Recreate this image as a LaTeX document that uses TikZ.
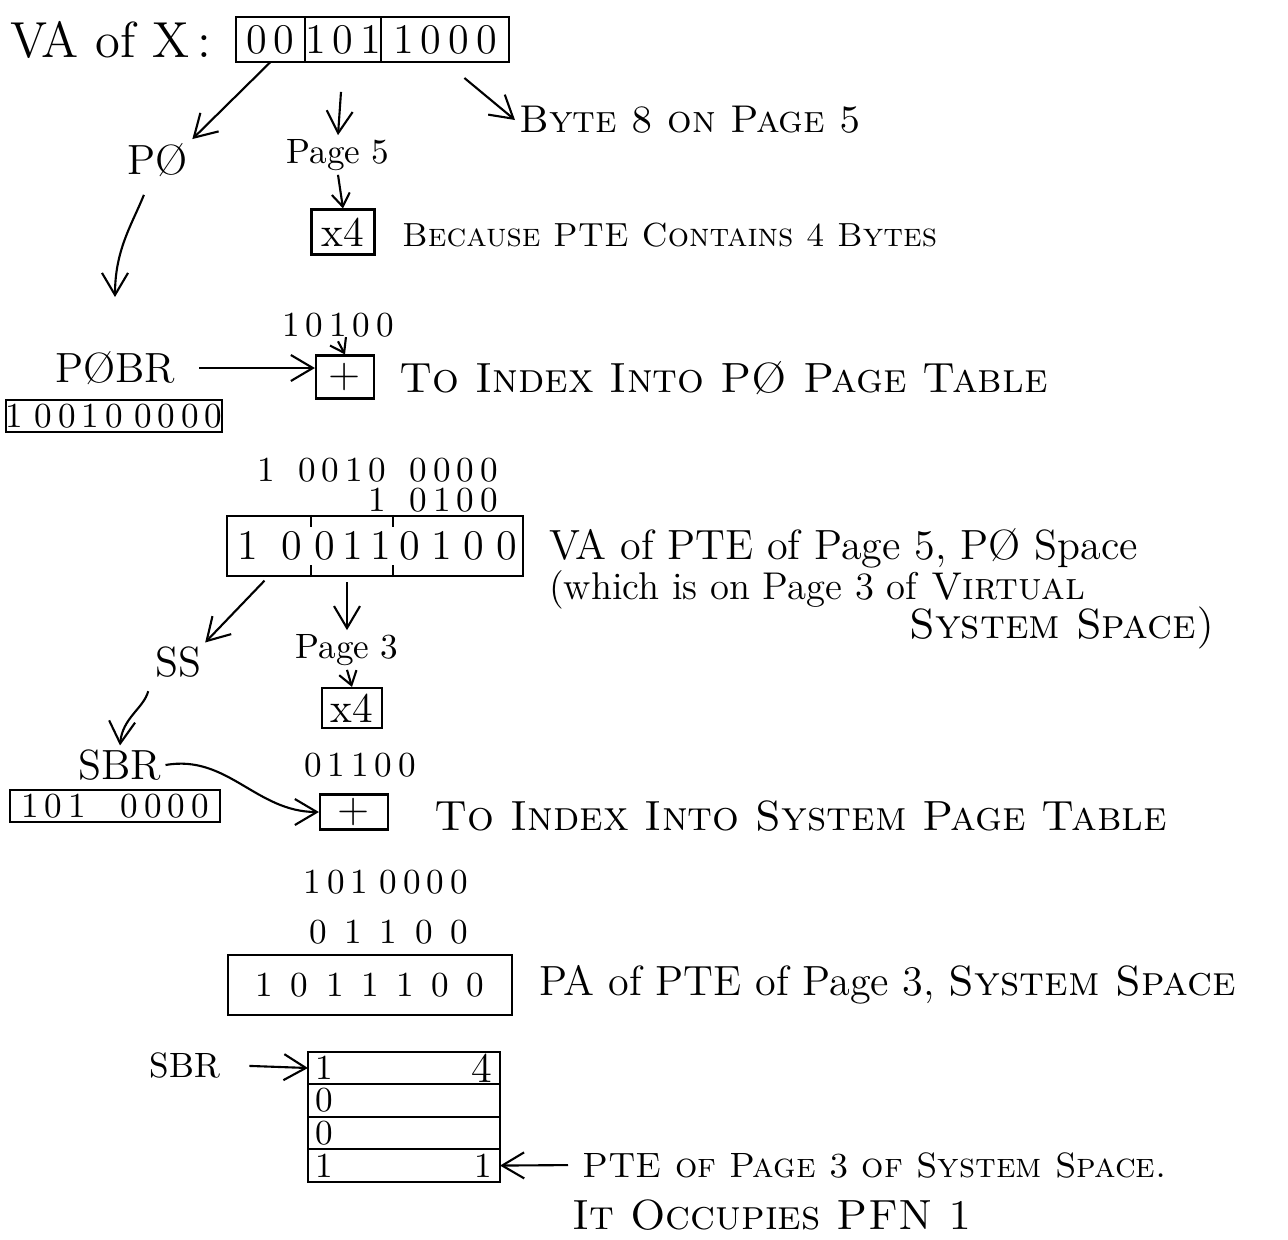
\documentclass[tikz,border=0pt]{standalone}
\usepackage{tikz}
\usetikzlibrary{arrows.meta,positioning,calc}
\tikzset{
  >={Straight Barb[length=2.2mm,width=2.6mm]},
  % boxes
  fld/.style={draw,line width=0.6pt,inner sep=0pt,outer sep=0pt,minimum height=4.5mm,font=\large},
  reg/.style={draw,line width=0.6pt,inner sep=0pt,minimum height=3.2mm,font=\normalsize},
  opbox/.style={draw,line width=0.6pt,inner sep=0pt,minimum width=5.8mm,minimum height=4.3mm,font=\large},
  wide/.style={draw,line width=0.6pt,inner sep=0pt,minimum width=29.5mm,minimum height=6mm},
  row/.style={draw,line width=0.6pt,inner sep=0pt,outer sep=0pt,minimum width=19.2mm,minimum height=3.25mm},
  % texts
  note/.style={anchor=west,inner sep=1pt,font=\large},
  lbl/.style={inner sep=1pt,font=\large},
  num/.style={inner sep=1pt,font=\normalsize},
  link/.style={->,line width=0.6pt},
  hop/.style={->,line width=0.6pt,>={Straight Barb[length=1.3mm,width=1.8mm]}},
}
\begin{document}
\begin{tikzpicture}[x=0.01cm,y=-0.01cm]
  \useasboundingbox (0,0) rectangle (1288,1239);
  % VA of X
  \node[note,font=\Large] (vax) at (6,40) {VA of X\,:};
  \node[fld,minimum width=6.9mm] (vaR) at (270.5,39.5) {0\,0};
  \node[fld,minimum width=7mm,right=0pt of vaR] (vaP) {1\,0\,1};
  \node[fld,minimum width=12.8mm,right=0pt of vaP] (vaB) {1\,0\,0\,0};
  \node[lbl] (p0) at (158,160) {P\O};
  \node[lbl,font=\normalsize] (pg5) at (338,155) {Page 5};
  \node[note,font=\fontsize{11}{13}\selectfont] (byte) at (515,120) {\scshape Byte 8 on Page 5};
  \draw[link] (vaR.south) -- (p0.north east);
  \draw[link,shorten <=3mm] (vaP.south) -- (pg5.north);
  \draw[link,shorten <=2.5mm] (vaB.south) -- (byte.west);
  \node[opbox,minimum width=6.3mm,minimum height=4.5mm] (x4a) at (343,232) {x4};
  \node[note,font=\fontsize{9.5}{12}\selectfont] (because) at (398,235) {\scshape Because PTE Contains 4 Bytes};
  \draw[hop] (pg5.south) -- (x4a.north);
  % P0 page table index
  \node[num] (off1) at (338,325) {1\,0\,1\,0\,0};
  \node[opbox] (plus1) at (345,377) {+};
  \draw[hop] (off1.south) -- (plus1.north);
  \node[lbl] (p0br) at (115,368) {P\O BR};
  \node[reg,minimum width=21.2mm] (p0brv) at (114,416) {1\ 0\,0\,1\,0\ 0\,0\,0\,0};
  \draw[link,shorten <=1.5mm] (p0) to[out=-112,in=90] ([yshift=5mm]p0br.north);
  \draw[link,shorten <=2mm] (p0br.east) -- (p0br.east -| plus1.west);
  \node[note] (idx1) at (395,378) {\scshape To Index Into P\O{} Page Table};
  % VA of PTE
  \node[num,anchor=east] (sum1a) at (502,470) {1\ \ 0\,0\,1\,0\ \ 0\,0\,0\,0};
  \node[num,anchor=east] (sum1b) at (502,500) {1\ \ 0\,1\,0\,0};
  \node[wide] (pva) at (375,546) {};
  \node[num,font=\large] (pvaR) at (270,546) {1\;\;0};
  \node[num,font=\large] (pvaP) at (353,546) {0\,1\,1};
  \node[num,font=\large] (pvaB) at (458,546) {0\;1\;0\;0};
  \foreach \dx in {85,167} {
    \draw[line width=0.6pt] (pva.north west) ++(\dx,0) -- ++(0,12);
    \draw[line width=0.6pt] (pva.south west) ++(\dx,0) -- ++(0,-12);
  }
  \node[note] (vapte) at (545,548) {VA of PTE of Page 5, P\O{} Space};
  \node[note,font=\fontsize{11}{13}\selectfont] (which) at (545,590) {(which is on Page 3 of \textsc{Virtual}};
  \node[note] (sysv) at (905,628) {\scshape System Space)};
  \node[lbl] (ss) at (178,662) {SS};
  \node[lbl,font=\normalsize] (pg3) at (347,650) {Page 3};
  \draw[link,shorten <=0.5mm] ([xshift=-10.7mm]pva.south) -- (ss.north east);
  \draw[link,shorten <=0.5mm] (pg3.north |- pva.south) -- (pg3.north);
  \node[opbox,minimum width=6mm,minimum height=4mm] (x4b) at (352,708) {x4};
  \draw[hop] (pg3.south) -- (x4b.north);
  % system page table index
  \node[lbl] (sbr) at (120,765) {SBR};
  \node[reg,minimum width=21mm] (sbrv) at (115,806) {1\,0\,1\ \ \ 0\,0\,0\,0};
  \draw[link,shorten <=1mm] (ss.south west) to[out=-105,in=85] (sbr.north);
  \node[num] (off2) at (360,765) {0\,1\,1\,0\,0};
  \node[opbox,minimum width=6.8mm,minimum height=3.5mm] (plus2) at (354,812) {+};
  \draw[link] (sbr.east) to[out=10,in=180] (plus2.west);
  \node[note] (idx2) at (430,816) {\scshape To Index Into System Page Table};
  % PA of PTE
  \node[num,anchor=east] (sum2a) at (472,882) {1\,0\,1\ 0\,0\,0\,0};
  \node[num,anchor=east] (sum2b) at (472,932) {0\ \,1\ \,1\ \,0\ \,0};
  \node[wide,minimum width=28.4mm,font=\normalsize] (ppa) at (370,985) {1\ \,0\ \,1\ \,1\ \,1\ \,0\ \,0};
  \node[note] (papte) at (535,985) {PA of PTE of Page 3, \textsc{System Space}};
  % system page table
  \node[lbl,font=\normalsize] (sbr2) at (185,1065) {SBR};
  \node[row] (r1) at (404,1068) {};
  \node[row,below=0pt of r1] (r2) {};
  \node[row,below=0pt of r2] (r3) {};
  \node[row,below=0pt of r3] (r4) {};
  \node[anchor=west,inner sep=2pt] at (r1.west) {1};
  \node[anchor=east,inner sep=2pt,font=\large] at (r1.east) {4};
  \node[anchor=west,inner sep=2pt] at (r2.west) {0};
  \node[anchor=west,inner sep=2pt] at (r3.west) {0};
  \node[anchor=west,inner sep=2pt] at (r4.west) {1};
  \node[anchor=east,inner sep=2pt] at (r4.east) {1};
  \draw[link,shorten <=2.5mm] (sbr2.east) -- (r1.west);
  \node[note,font=\normalsize] (ptesys) at (578,1165) {\scshape PTE of Page 3 of System Space.};
  \node[note] (pfn) at (568,1215) {\scshape It Occupies PFN 1};
  \draw[link,shorten <=1mm] (ptesys.west) -- (r4.east);
\end{tikzpicture}
\end{document}
